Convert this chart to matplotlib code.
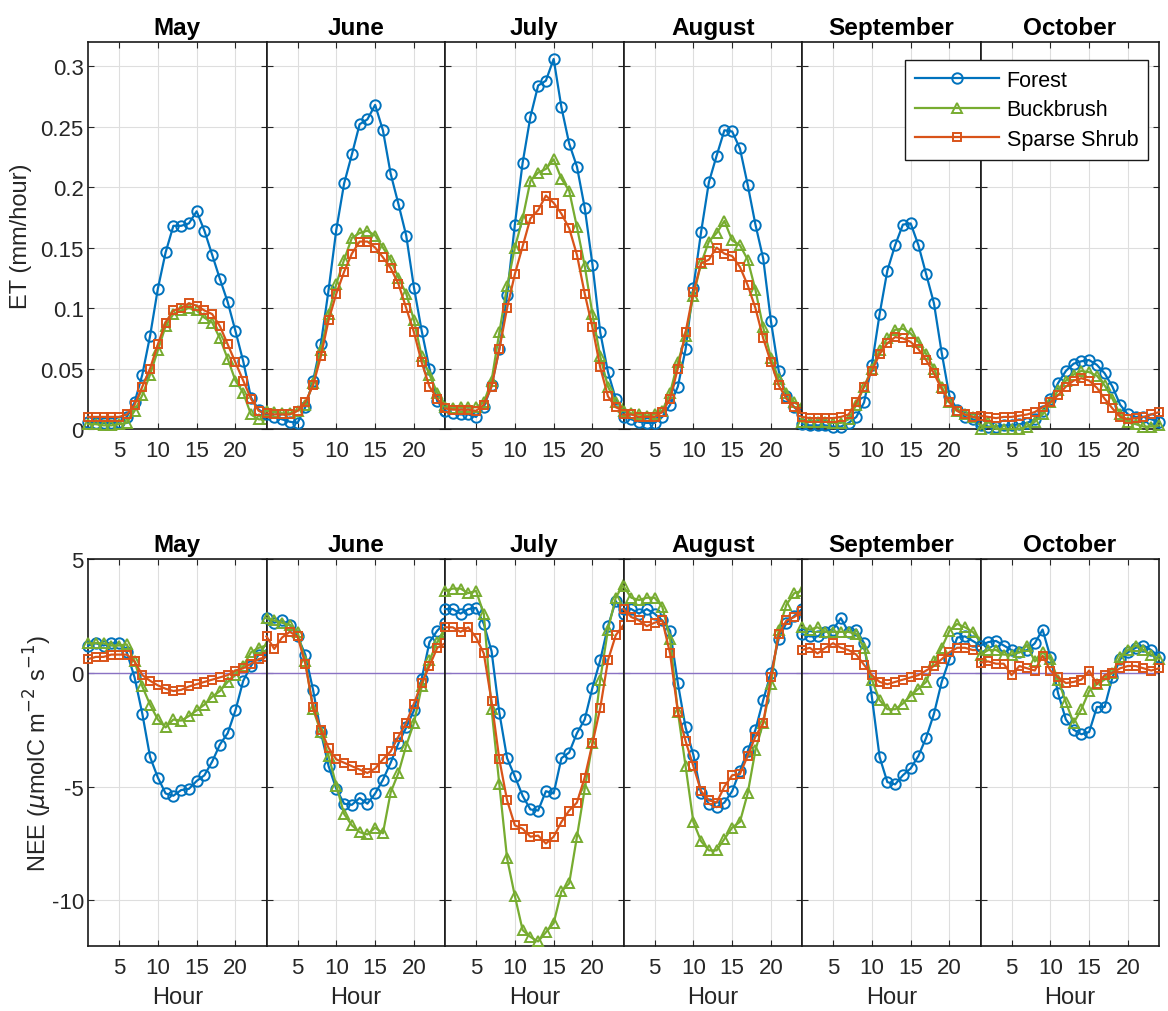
import numpy as np
import matplotlib
matplotlib.use("Agg")
import matplotlib.pyplot as plt

MONTHS = ["May", "June", "July", "August", "September", "October"]
HOURS = list(range(1, 25))
SERIES = ["Forest", "Buckbrush", "Sparse Shrub"]

# ET (mm/hour), one list of 24 hourly values per month
ET_FOREST = [
    [0.006, 0.005, 0.005, 0.005, 0.006, 0.01, 0.022, 0.045, 0.077, 0.116, 0.146, 0.168, 0.168, 0.17, 0.18, 0.164, 0.144, 0.124, 0.105, 0.081, 0.056, 0.026, 0.016, 0.012],
    [0.012, 0.01, 0.008, 0.006, 0.005, 0.018, 0.04, 0.07, 0.115, 0.165, 0.203, 0.227, 0.252, 0.256, 0.268, 0.247, 0.211, 0.186, 0.16, 0.117, 0.081, 0.05, 0.023, 0.015],
    [0.015, 0.013, 0.012, 0.012, 0.01, 0.018, 0.036, 0.066, 0.111, 0.169, 0.22, 0.258, 0.284, 0.288, 0.306, 0.266, 0.236, 0.217, 0.183, 0.136, 0.08, 0.047, 0.025, 0.015],
    [0.01, 0.008, 0.006, 0.005, 0.005, 0.01, 0.02, 0.035, 0.066, 0.117, 0.163, 0.204, 0.226, 0.247, 0.246, 0.232, 0.202, 0.169, 0.141, 0.089, 0.048, 0.027, 0.018, 0.012],
    [0.004, 0.003, 0.003, 0.003, 0.002, 0.002, 0.005, 0.01, 0.022, 0.053, 0.095, 0.131, 0.152, 0.169, 0.17, 0.152, 0.128, 0.104, 0.063, 0.027, 0.016, 0.01, 0.008, 0.006],
    [0.003, 0.002, 0.002, 0.003, 0.003, 0.004, 0.005, 0.008, 0.015, 0.025, 0.038, 0.048, 0.054, 0.056, 0.057, 0.053, 0.046, 0.035, 0.02, 0.012, 0.01, 0.01, 0.008, 0.006],
]
ET_BUCK = [
    [0.004, 0.004, 0.003, 0.003, 0.004, 0.005, 0.015, 0.028, 0.045, 0.065, 0.085, 0.095, 0.098, 0.1, 0.098, 0.092, 0.088, 0.075, 0.058, 0.04, 0.03, 0.012, 0.008, 0.008],
    [0.015, 0.014, 0.013, 0.013, 0.015, 0.02, 0.038, 0.065, 0.095, 0.12, 0.14, 0.158, 0.162, 0.164, 0.16, 0.15, 0.14, 0.125, 0.112, 0.09, 0.06, 0.045, 0.03, 0.02],
    [0.018, 0.017, 0.018, 0.018, 0.018, 0.022, 0.04, 0.08, 0.118, 0.15, 0.174, 0.205, 0.212, 0.215, 0.223, 0.207, 0.197, 0.167, 0.135, 0.095, 0.06, 0.035, 0.022, 0.018],
    [0.015, 0.013, 0.012, 0.011, 0.012, 0.015, 0.03, 0.055, 0.077, 0.11, 0.137, 0.155, 0.162, 0.172, 0.156, 0.152, 0.14, 0.115, 0.084, 0.059, 0.041, 0.03, 0.022, 0.018],
    [0.006, 0.006, 0.006, 0.006, 0.005, 0.005, 0.008, 0.02, 0.035, 0.05, 0.065, 0.075, 0.082, 0.083, 0.079, 0.072, 0.062, 0.05, 0.035, 0.022, 0.015, 0.012, 0.01, 0.008],
    [0.0, 0.006, 0.0, 0.0, 0.0, 0.0, 0.002, 0.006, 0.012, 0.022, 0.032, 0.04, 0.045, 0.048, 0.047, 0.044, 0.036, 0.025, 0.012, 0.006, 0.004, 0.002, 0.002, 0.003],
]
ET_SPARSE = [
    [0.01, 0.01, 0.01, 0.01, 0.01, 0.012, 0.02, 0.035, 0.05, 0.07, 0.088, 0.098, 0.1, 0.104, 0.102, 0.098, 0.095, 0.085, 0.07, 0.055, 0.04, 0.025, 0.015, 0.012],
    [0.013, 0.012, 0.012, 0.012, 0.015, 0.022, 0.036, 0.06, 0.09, 0.112, 0.13, 0.145, 0.155, 0.155, 0.15, 0.142, 0.133, 0.12, 0.1, 0.08, 0.055, 0.035, 0.025, 0.018],
    [0.017, 0.016, 0.016, 0.016, 0.015, 0.02, 0.035, 0.066, 0.1, 0.128, 0.151, 0.174, 0.181, 0.193, 0.187, 0.178, 0.166, 0.144, 0.112, 0.084, 0.051, 0.027, 0.018, 0.015],
    [0.012, 0.012, 0.01, 0.01, 0.01, 0.014, 0.025, 0.05, 0.08, 0.113, 0.137, 0.14, 0.15, 0.145, 0.143, 0.134, 0.119, 0.1, 0.075, 0.055, 0.036, 0.025, 0.018, 0.014],
    [0.01, 0.009, 0.009, 0.009, 0.009, 0.01, 0.012, 0.022, 0.035, 0.048, 0.062, 0.071, 0.076, 0.075, 0.072, 0.066, 0.057, 0.046, 0.033, 0.022, 0.015, 0.012, 0.01, 0.009],
    [0.011, 0.01, 0.009, 0.01, 0.01, 0.011, 0.012, 0.014, 0.018, 0.022, 0.028, 0.035, 0.04, 0.042, 0.04, 0.034, 0.025, 0.017, 0.01, 0.008, 0.009, 0.01, 0.012, 0.014],
]

# NEE (umolC m-2 s-1)
NEE_FOREST = [
    [1.2, 1.3, 1.2, 1.3, 1.3, 0.9, -0.2, -1.8, -3.7, -4.6, -5.3, -5.4, -5.15, -5.1, -4.75, -4.5, -3.9, -3.15, -2.65, -1.65, -0.35, 0.3, 0.8, 1.0],
    [2.4, 2.2, 2.3, 2.1, 1.6, 0.8, -0.75, -2.6, -4.1, -5.1, -5.75, -5.8, -5.5, -5.75, -5.3, -4.7, -3.95, -3.1, -2.4, -1.65, -0.25, 1.35, 1.85, 2.2],
    [2.8, 2.8, 2.6, 2.8, 2.85, 2.15, 0.95, -1.75, -3.75, -4.55, -5.4, -6.0, -6.05, -5.2, -5.3, -3.75, -3.5, -2.65, -2.05, -0.65, 0.55, 2.05, 3.15, 2.6],
    [2.8, 2.8, 2.6, 2.8, 2.6, 2.3, 1.85, -0.45, -2.4, -3.6, -5.3, -5.75, -5.9, -5.7, -5.2, -4.3, -3.45, -2.5, -1.2, 0.0, 1.5, 2.2, 2.5, 2.8],
    [1.7, 1.6, 1.6, 1.8, 1.9, 2.4, 1.8, 1.9, 1.3, -1.05, -3.7, -4.8, -4.9, -4.5, -4.2, -3.65, -2.85, -1.8, -0.4, 0.6, 1.55, 1.6, 1.4, 1.2],
    [1.2, 1.35, 1.4, 1.2, 1.0, 0.9, 1.0, 1.3, 1.9, 0.7, -0.9, -2.05, -2.5, -2.7, -2.6, -1.5, -1.5, -0.2, 0.6, 0.9, 1.1, 1.2, 1.0, 0.7],
]
NEE_BUCK = [
    [1.3, 1.3, 1.3, 1.2, 1.2, 1.25, 0.5, -0.6, -1.4, -2.05, -2.4, -2.05, -2.1, -1.9, -1.65, -1.4, -1.05, -0.8, -0.4, -0.1, 0.3, 0.9, 1.1, 1.2],
    [2.4, 2.3, 2.2, 2.1, 1.8, 0.5, -1.6, -2.6, -3.65, -4.95, -6.2, -6.7, -7.0, -7.1, -6.8, -7.05, -5.25, -4.4, -3.2, -2.2, -0.6, 0.55, 1.35, 1.8],
    [3.6, 3.7, 3.7, 3.5, 3.6, 2.6, -1.6, -4.9, -8.15, -9.8, -11.3, -11.6, -11.8, -11.4, -11.0, -9.6, -9.25, -7.2, -5.1, -3.1, -0.3, 1.9, 3.3, 3.9],
    [3.8, 3.3, 3.2, 3.3, 3.3, 2.9, 1.5, -1.7, -4.1, -6.55, -7.4, -7.8, -7.8, -7.3, -6.8, -6.55, -5.3, -3.4, -2.2, -0.5, 1.9, 3.0, 3.5, 3.6],
    [2.0, 1.9, 2.0, 1.8, 1.8, 1.8, 1.8, 1.7, 1.1, -0.3, -1.2, -1.6, -1.6, -1.35, -1.0, -0.7, -0.4, 0.5, 1.1, 1.85, 2.15, 2.0, 1.8, 1.4],
    [0.8, 1.0, 1.0, 0.8, 0.8, 0.9, 1.2, 0.5, 0.9, 0.6, -0.3, -1.3, -2.2, -1.6, -0.8, -0.5, -0.3, 0.0, 0.7, 1.0, 1.2, 1.0, 0.8, 0.6],
]
NEE_SPARSE = [
    [0.6, 0.7, 0.7, 0.8, 0.8, 0.8, 0.5, -0.1, -0.35, -0.55, -0.7, -0.8, -0.75, -0.6, -0.5, -0.4, -0.3, -0.2, -0.1, 0.1, 0.2, 0.4, 0.6, 0.7],
    [1.6, 1.05, 1.55, 1.8, 1.6, 0.4, -1.5, -2.5, -3.3, -3.8, -3.95, -4.1, -4.25, -4.4, -4.2, -3.8, -3.45, -2.8, -2.2, -1.35, -0.45, 0.3, 1.1, 1.3],
    [2.0, 2.0, 1.8, 2.0, 1.55, 0.85, -1.25, -3.8, -5.6, -6.7, -6.85, -7.2, -7.15, -7.5, -7.2, -6.55, -6.05, -5.7, -4.6, -3.1, -1.55, 0.55, 1.65, 2.1],
    [2.8, 2.45, 2.3, 2.05, 2.2, 2.3, 0.85, -1.7, -3.0, -4.1, -5.2, -5.6, -5.7, -5.0, -4.5, -4.45, -3.65, -2.8, -2.2, -0.2, 1.7, 2.3, 2.45, 2.7],
    [1.0, 1.1, 0.85, 1.1, 1.3, 1.1, 1.0, 0.8, 0.35, -0.1, -0.4, -0.5, -0.4, -0.3, -0.2, -0.1, 0.1, 0.3, 0.6, 0.9, 1.1, 1.1, 1.0, 1.0],
    [0.45, 0.5, 0.4, 0.4, -0.1, 0.3, 0.2, 0.1, 0.75, 0.1, -0.2, -0.45, -0.4, -0.3, 0.1, -0.5, -0.1, 0.0, 0.2, 0.3, 0.3, 0.2, 0.1, 0.2],
]

COLORS = ["#0072BD", "#77AC30", "#D95319"]
MARKERS = ["o", "^", "s"]
MSIZES = [7.5, 7.5, 6]

plt.rcParams["font.family"] = ["Liberation Sans", "DejaVu Sans"]
plt.rcParams["axes.unicode_minus"] = False

fig = plt.figure(figsize=(11.68, 10.12), dpi=100)

left, right = 88 / 1168, 1159 / 1168
pw = (right - left) / 6
rows = [
    dict(bottom=1 - 430 / 1012, top=1 - 43 / 1012, data=[ET_FOREST, ET_BUCK, ET_SPARSE],
         ylim=(0, 0.32), yticks=[0, 0.05, 0.1, 0.15, 0.2, 0.25, 0.3],
         yticklabels=["0", "0.05", "0.1", "0.15", "0.2", "0.25", "0.3"],
         ylabel="ET (mm/hour)", labelpad=6),
    dict(bottom=1 - 947 / 1012, top=1 - 560 / 1012, data=[NEE_FOREST, NEE_BUCK, NEE_SPARSE],
         ylim=(-12, 5), yticks=[-10, -5, 0, 5], yticklabels=["-10", "-5", "0", "5"],
         ylabel=r"NEE ($\mu$molC m$^{-2}$ s$^{-1}$)", labelpad=-2),
]

handles = []
for r, row in enumerate(rows):
    for m, month in enumerate(MONTHS):
        ax = fig.add_axes([left + m * pw, row["bottom"], pw, row["top"] - row["bottom"]])
        if r == 1:
            ax.axhline(0, color="#8a72c4", lw=1.0, zorder=1)
        for s in range(3):
            ln, = ax.plot(HOURS, row["data"][s][m], color=COLORS[s], marker=MARKERS[s],
                          ms=MSIZES[s], mfc="none", mew=1.4, lw=1.6, clip_on=False,
                          label=SERIES[s], zorder=3)
            if r == 0 and m == 0:
                handles.append(ln)
        ax.set_xlim(1, 24)
        ax.set_ylim(*row["ylim"])
        ax.set_xticks([5, 10, 15, 20])
        ax.set_xticklabels(["5", "10", "15", "20"])
        ax.set_yticks(row["yticks"])
        if m == 0:
            ax.set_yticklabels(row["yticklabels"])
            ax.set_ylabel(row["ylabel"], fontsize=17, labelpad=row["labelpad"], color="#262626")
        else:
            ax.set_yticklabels([])
        ax.grid(True, color="#dedede", lw=0.8)
        ax.set_axisbelow(True)
        ax.tick_params(direction="in", length=4, width=0.8, top=True, right=True,
                       labelsize=16, colors="#262626")
        ax.tick_params(axis="x", pad=8)
        ax.tick_params(axis="y", pad=3)
        for sp in ax.spines.values():
            sp.set_color("#1a1a1a")
            sp.set_linewidth(1.2)
        ax.set_title(month, fontsize=17.5, fontweight="bold", pad=6)
        if r == 1:
            ax.set_xlabel("Hour", fontsize=17, labelpad=6, color="#262626")

fig.legend(handles, SERIES, loc="upper right", bbox_to_anchor=(1148 / 1168, 1 - 61 / 1012),
           fancybox=False, framealpha=1, edgecolor="#1a1a1a", fontsize=15.5,
           handlelength=3.9, borderpad=0.45, labelspacing=0.4, handletextpad=0.37,
           borderaxespad=0)

fig.savefig("out.png", dpi=100)
